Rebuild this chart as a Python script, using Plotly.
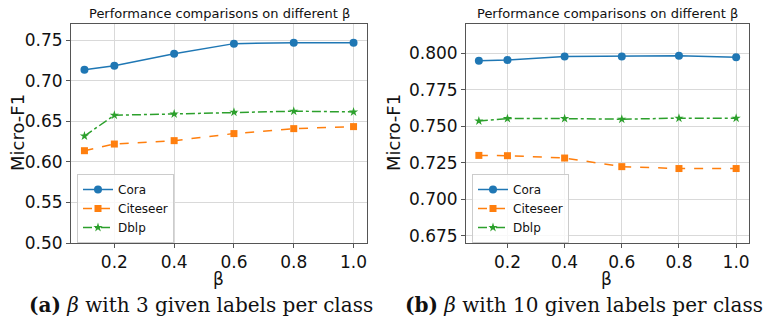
import plotly.graph_objects as go

beta = [0.1, 0.2, 0.4, 0.6, 0.8, 1.0]

# (a) 3 given labels per class
cora_a = [0.7136, 0.7186, 0.7334, 0.7458, 0.7470, 0.7470]
citeseer_a = [0.6138, 0.6220, 0.6262, 0.6349, 0.6410, 0.6435]
dblp_a = [0.6319, 0.6575, 0.6591, 0.6612, 0.6625, 0.6616]

# (b) 10 given labels per class
cora_b = [0.7949, 0.7954, 0.7977, 0.7977, 0.7982, 0.7973]
citeseer_b = [0.7300, 0.7298, 0.7282, 0.7223, 0.7210, 0.7210]
dblp_b = [0.7536, 0.7552, 0.7552, 0.7548, 0.7555, 0.7555]

x_ticks = [0.2, 0.4, 0.6, 0.8, 1.0]
y_ticks_a = [0.50, 0.55, 0.60, 0.65, 0.70, 0.75]
y_ticks_b = [0.675, 0.700, 0.725, 0.750, 0.775, 0.800]

series_names = ["Cora", "Citeseer", "Dblp"]
colors = ["#1f77b4", "#ff7f0e", "#2ca02c"]
dashes = ["solid", "dash", "dashdot"]
symbols = ["circle", "square", "star"]
msizes = [8, 7, 7]

title_text = "Performance comparisons on different β"
captions = ["<b>(a)</b> <i>β</i> with 3 given labels per class",
            "<b>(b)</b> <i>β</i> with 10 given labels per class"]

W, H = 763, 326
fig = go.Figure()

panels = [
    (dict(cora=cora_a, cit=citeseer_a, dblp=dblp_a), "x", "y", "legend"),
    (dict(cora=cora_b, cit=citeseer_b, dblp=dblp_b), "x2", "y2", "legend2"),
]
for data, xa, ya, lg in panels:
    vals = [data["cora"], data["cit"], data["dblp"]]
    for i, name in enumerate(series_names):
        fig.add_trace(go.Scatter(
            x=beta, y=vals[i], name=name, mode="lines+markers",
            line=dict(color=colors[i], width=1.5, dash=dashes[i]),
            marker=dict(symbol=symbols[i], size=msizes[i], color=colors[i]),
            xaxis=xa, yaxis=ya, legend=lg,
        ))

def px_x(p):
    return p / W

def px_y(p):
    return 1 - p / H

axis_common = dict(
    showline=True, linecolor="#555555", linewidth=1, mirror=True,
    showgrid=True, gridcolor="#d9d9d9", gridwidth=1,
    ticks="outside", ticklen=4, tickcolor="#555555",
    tickfont=dict(family="DejaVu Sans", size=17, color="#111111"),
    zeroline=False, automargin=False,
)

ydom = [px_y(243), px_y(24)]
legend_common = dict(xanchor="left", yanchor="top",
                     bgcolor="rgba(255,255,255,0.8)", bordercolor="#cccccc",
                     borderwidth=1,
                     font=dict(family="DejaVu Sans", size=12, color="#111111"),
                     itemwidth=30, tracegroupgap=0)
fig.update_layout(
    width=W, height=H,
    margin=dict(l=0, r=0, t=0, b=0, autoexpand=False),
    paper_bgcolor="white", plot_bgcolor="white",
    showlegend=True,
    xaxis=dict(domain=[px_x(71), px_x(367)], range=[0.055, 1.045],
               tickvals=x_ticks, tickformat=".1f", anchor="y", **axis_common),
    yaxis=dict(domain=ydom, range=[0.50, 0.77], tickvals=y_ticks_a,
               tickformat=".2f", anchor="x", **axis_common),
    xaxis2=dict(domain=[px_x(466), px_x(749)], range=[0.055, 1.045],
                tickvals=x_ticks, tickformat=".1f", anchor="y2", **axis_common),
    yaxis2=dict(domain=ydom, range=[0.670, 0.820], tickvals=y_ticks_b,
                tickformat=".3f", anchor="x2", **axis_common),
    legend=dict(x=px_x(77), y=px_y(174), **legend_common),
    legend2=dict(x=px_x(472), y=px_y(174), **legend_common),
)

def ann(x, y, text, font, angle=0):
    return dict(x=px_x(x), y=px_y(y), xref="paper", yref="paper",
                xanchor="center", yanchor="middle", text=text,
                showarrow=False, textangle=angle, font=font)

annots = []
for cx, ylab_x in [((71 + 367) / 2, 17), ((466 + 749) / 2, 393)]:
    annots.append(ann(cx, 14, title_text,
                      dict(family="DejaVu Sans", size=13, color="#111111")))
    annots.append(ann(cx - 1, 279, "β",
                      dict(family="DejaVu Sans", size=17, color="#111111")))
    annots.append(ann(ylab_x, 133, "Micro-F1",
                      dict(family="DejaVu Sans", size=18, color="#111111"), -90))
annots.append(ann(201, 305, captions[0],
                  dict(family="DejaVu Serif", size=20, color="#111111")))
annots.append(ann(584, 305, captions[1],
                  dict(family="DejaVu Serif", size=20, color="#111111")))
fig.update_layout(annotations=annots)

fig.write_html(
    "out.html",
    config={"displayModeBar": False},
    post_script="document.body.style.margin='0px'; document.body.style.overflow='hidden';",
)
